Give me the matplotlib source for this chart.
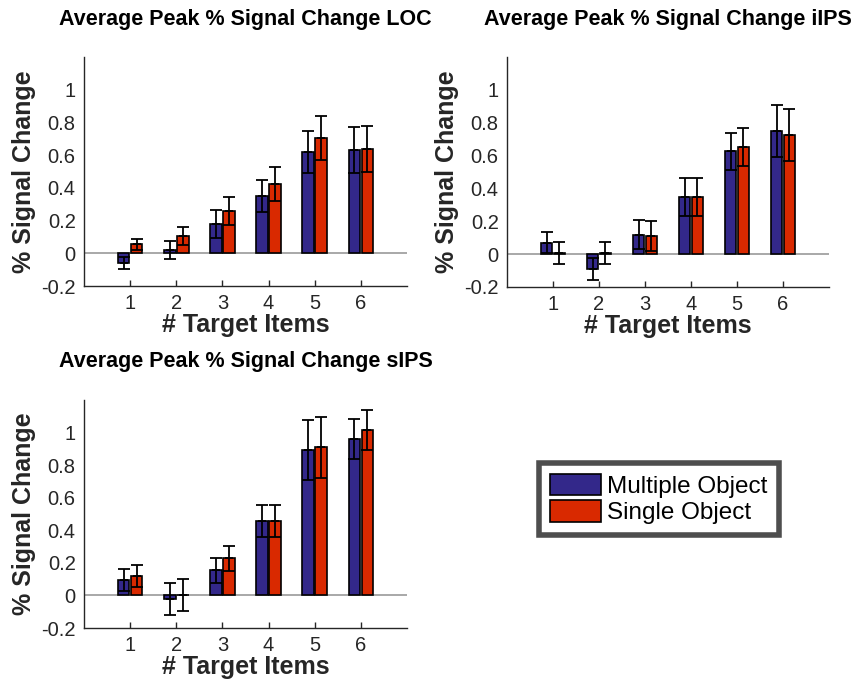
import numpy as np
import matplotlib
matplotlib.use('Agg')
import matplotlib.pyplot as plt
from matplotlib.patches import Patch

plt.rcParams['font.family'] = ['Liberation Sans', 'DejaVu Sans']

# ── Data ───────────────────────────────────────────────────────────────────────
items = [1, 2, 3, 4, 5, 6]

loc_multi     = [-0.06, 0.02, 0.18, 0.35, 0.62, 0.63]
loc_multi_err = [0.036, 0.057, 0.085, 0.10, 0.13, 0.14]
loc_single     = [0.055, 0.106, 0.258, 0.423, 0.705, 0.638]
loc_single_err = [0.034, 0.055, 0.084, 0.104, 0.135, 0.14]

iips_multi     = [0.07, -0.09, 0.119, 0.35, 0.626, 0.75]
iips_multi_err = [0.065, 0.068, 0.09, 0.115, 0.113, 0.156]
iips_single     = [0.008, 0.008, 0.112, 0.35, 0.652, 0.724]
iips_single_err = [0.068, 0.066, 0.09, 0.115, 0.113, 0.157]

sips_multi     = [0.095, -0.023, 0.154, 0.455, 0.893, 0.959]
sips_multi_err = [0.069, 0.10, 0.078, 0.098, 0.183, 0.122]
sips_single     = [0.117, 0.002, 0.228, 0.457, 0.909, 1.016]
sips_single_err = [0.068, 0.10, 0.078, 0.098, 0.186, 0.121]

labels = ['Multiple Object', 'Single Object']
titles = ['Average Peak % Signal Change LOC',
          'Average Peak % Signal Change iIPS',
          'Average Peak % Signal Change sIPS']

C_MULTI  = '#33288a'
C_SINGLE = '#d92900'
TXT      = '#262626'

W, H = 855, 685
fig = plt.figure(figsize=(W / 100, H / 100), dpi=100)


def px_axes(l, t, r, b):
    return fig.add_axes([l / W, 1 - b / H, (r - l) / W, (b - t) / H])


panels = [
    (px_axes(84, 57, 407, 286), loc_multi, loc_multi_err, loc_single, loc_single_err, 20),
    (px_axes(507, 57, 829, 287), iips_multi, iips_multi_err, iips_single, iips_single_err, 20),
    (px_axes(84, 400, 407, 628), sips_multi, sips_multi_err, sips_single, sips_single_err, 362),
]

x = np.array(items)
off, bw = 0.14, 0.25

for i, (ax, m, me, s, se, ty) in enumerate(panels):
    ax.axhline(0, color='#9a9a9a', lw=1.2, zorder=1)
    ax.bar(x - off, m, bw, color=C_MULTI, edgecolor='black', lw=1.2, zorder=2)
    ax.bar(x + off, s, bw, color=C_SINGLE, edgecolor='black', lw=1.2, zorder=2)
    ax.errorbar(x - off, m, yerr=me, fmt='_', color='black', ms=6, mew=1.3,
                elinewidth=1.3, capsize=4.5, capthick=1.3, zorder=3)
    ax.errorbar(x + off, s, yerr=se, fmt='_', color='black', ms=6, mew=1.3,
                elinewidth=1.3, capsize=4.5, capthick=1.3, zorder=3)

    ax.set_xlim(0, 7)
    ax.set_ylim(-0.2, 1.2)
    ax.set_xticks(items)
    ax.set_yticks([-0.2, 0, 0.2, 0.4, 0.6, 0.8, 1])
    ax.set_yticklabels(['-0.2', '0', '0.2', '0.4', '0.6', '0.8', '1'])
    ax.tick_params(direction='in', length=4, width=1, colors=TXT,
                   labelsize=14.5, pad=6)
    ax.tick_params(axis='y', length=0)
    for sp in ['top', 'right']:
        ax.spines[sp].set_visible(False)
    for sp in ['left', 'bottom']:
        ax.spines[sp].set_color(TXT)
        ax.spines[sp].set_linewidth(1)

    ax.set_xlabel('# Target Items', fontsize=18, fontweight='bold', color=TXT, labelpad=0)
    ax.set_ylabel('% Signal Change', fontsize=18, fontweight='bold', color=TXT, labelpad=4)
    pos = ax.get_position()
    fig.text((pos.x0 + pos.x1) / 2, 1 - ty / H, titles[i], ha='center', va='center',
             fontsize=15.5, fontweight='bold', color='black')

handles = [Patch(facecolor=C_MULTI, edgecolor='black', lw=1.2),
           Patch(facecolor=C_SINGLE, edgecolor='black', lw=1.2)]
leg = fig.legend(handles, labels, loc='center', bbox_to_anchor=(659 / W, 1 - 499 / H),
                 fontsize=17.5, frameon=True, fancybox=False, handlelength=2.1,
                 handleheight=1.0, handletextpad=0.25, labelspacing=0.1,
                 borderpad=0.45, borderaxespad=0)
leg.get_frame().set_edgecolor('#222222')
leg.get_frame().set_linewidth(4)

plt.savefig('out.png', dpi=100)
